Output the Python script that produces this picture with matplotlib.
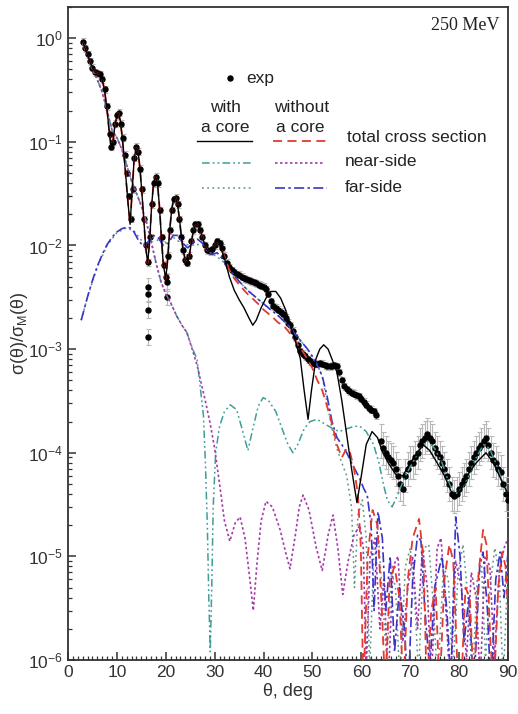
import numpy as np
import matplotlib
matplotlib.use("Agg")
import matplotlib.pyplot as plt
from matplotlib.ticker import MultipleLocator, FixedLocator, LogFormatterSciNotation, NullFormatter

plt.rcParams['font.family'] = ['Liberation Sans', 'DejaVu Sans']
plt.rcParams['mathtext.fontset'] = 'custom'
plt.rcParams['mathtext.rm'] = 'Liberation Sans'

# ---------------- data (theta in deg, sigma/sigma_M) ----------------
exp_main = np.array([
    (3.0, 0.92), (3.5, 0.80), (4.0, 0.70), (4.5, 0.60), (5.0, 0.52), (5.5, 0.47), (6.0, 0.46),
    (6.5, 0.45), (7.0, 0.40), (7.5, 0.32), (8.0, 0.22), (8.5, 0.12), (8.8, 0.09), (9.2, 0.10),
    (9.6, 0.15), (10.0, 0.18), (10.4, 0.19), (10.8, 0.15), (11.2, 0.11), (11.6, 0.075),
    (12.0, 0.05), (12.4, 0.030), (12.8, 0.018), (13.2, 0.035), (13.6, 0.070), (14.0, 0.090),
    (14.4, 0.080), (14.8, 0.055), (15.2, 0.035), (15.6, 0.018), (16.0, 0.010), (16.4, 0.0069),
    (16.8, 0.012), (17.2, 0.025), (17.6, 0.040), (18.0, 0.046), (18.4, 0.040), (18.8, 0.022),
    (19.2, 0.012), (19.6, 0.0065), (20.0, 0.0050), (20.4, 0.008), (20.8, 0.014), (21.2, 0.022),
    (21.6, 0.028), (22.0, 0.029), (22.4, 0.025), (22.8, 0.018), (23.2, 0.012), (23.6, 0.009),
    (24.0, 0.0072), (24.4, 0.0068), (24.8, 0.008), (25.2, 0.011), (25.6, 0.014), (26.0, 0.016),
    (26.5, 0.016), (27.0, 0.014), (27.5, 0.012), (28.0, 0.010), (28.5, 0.009), (29.0, 0.0088),
    (29.5, 0.0092), (30.0, 0.010), (30.5, 0.011), (31.0, 0.0105), (31.5, 0.0095), (32.0, 0.008),
    (32.5, 0.0068), (33.0, 0.0062), (33.5, 0.0058), (34.0, 0.0055), (34.5, 0.0053), (35.0, 0.0052),
    (35.5, 0.0050), (36.0, 0.0048), (36.5, 0.0047), (37.0, 0.0046), (37.5, 0.0045), (38.0, 0.0044),
    (38.5, 0.0043), (39.0, 0.0042), (39.5, 0.0041), (40.0, 0.0040), (40.5, 0.0038), (41.0, 0.0034),
    (41.5, 0.0029), (42.0, 0.0026), (42.5, 0.0025), (43.0, 0.0024), (43.5, 0.0023), (44.0, 0.0022),
    (44.5, 0.0020), (45.0, 0.0018), (45.5, 0.0017), (46.0, 0.0015), (46.5, 0.0013), (47.0, 0.0011),
    (47.5, 0.00095), (48.0, 0.00090), (48.5, 0.00085), (49.0, 0.00080), (49.5, 0.00076),
    (50.0, 0.00074), (50.5, 0.00072), (51.0, 0.00072), (51.5, 0.00073), (52.0, 0.00072),
    (52.5, 0.00070), (53.0, 0.00068), (53.5, 0.00068), (54.0, 0.00069), (54.5, 0.00070),
    (55.0, 0.00068), (55.5, 0.00060), (56.0, 0.00050), (56.5, 0.00044), (57.0, 0.00041),
    (57.5, 0.00039), (58.0, 0.00038), (58.5, 0.00037), (59.0, 0.00036), (59.5, 0.00035),
    (60.0, 0.00033), (60.5, 0.00031), (61.0, 0.00029), (61.5, 0.00027), (62.0, 0.00026),
    (62.5, 0.00025), (63.0, 0.00023),
])
exp_main_err = 0.08

exp_low = np.array([
    (16.3, 0.0040), (16.3, 0.0034), (16.3, 0.0024), (16.3, 0.0013), (20.2, 0.0044), (20.2, 0.0032),
])
exp_low_err = 0.2

exp_far = np.array([
    (64.0, 1.3e-4), (64.5, 1.1e-4), (65.0, 1.0e-4), (65.5, 9.0e-5), (66.0, 8.5e-5), (66.5, 8.0e-5),
    (67.0, 7.0e-5), (67.5, 6.0e-5), (68.0, 5.0e-5), (68.5, 4.5e-5), (69.0, 6.0e-5), (69.5, 7.0e-5),
    (70.0, 8.0e-5), (70.5, 8.0e-5), (71.0, 9.0e-5), (71.5, 1.0e-4), (72.0, 1.2e-4), (72.5, 1.3e-4),
    (73.0, 1.4e-4), (73.5, 1.5e-4), (74.0, 1.4e-4), (74.5, 1.3e-4), (75.0, 1.1e-4), (75.5, 1.0e-4),
    (76.0, 9.0e-5), (76.5, 8.0e-5), (77.0, 7.0e-5), (77.5, 6.0e-5), (78.0, 5.0e-5), (78.5, 4.0e-5),
    (79.0, 3.8e-5), (79.5, 4.0e-5), (80.0, 4.5e-5), (80.5, 5.0e-5), (81.0, 5.5e-5), (81.5, 6.0e-5),
    (82.0, 7.0e-5), (82.5, 8.0e-5), (83.0, 9.0e-5), (83.5, 1.0e-4), (84.0, 1.1e-4), (84.5, 1.2e-4),
    (85.0, 1.3e-4), (85.5, 1.4e-4), (86.0, 1.2e-4), (86.5, 1.0e-4), (87.0, 8.5e-5), (87.5, 8.0e-5),
    (88.0, 7.0e-5), (88.5, 6.5e-5), (89.0, 5.0e-5), (89.5, 4.0e-5), (90.0, 3.5e-5),
])
exp_far_err = 0.45

# common forward-angle part of both total cross sections
total_front = np.array([
    (3.0, 0.92), (3.5, 0.80), (4.0, 0.69), (4.5, 0.59), (5.0, 0.52), (5.5, 0.47), (6.0, 0.46),
    (6.5, 0.45), (7.0, 0.40), (7.5, 0.31), (8.0, 0.20), (8.4, 0.13), (8.8, 0.09), (9.2, 0.10),
    (9.6, 0.145), (10.0, 0.18), (10.3, 0.19), (10.7, 0.16), (11.1, 0.11), (11.5, 0.07),
    (11.9, 0.042), (12.3, 0.025), (12.7, 0.016), (13.1, 0.032), (13.5, 0.065), (13.9, 0.088),
    (14.3, 0.082), (14.7, 0.057), (15.1, 0.033), (15.5, 0.018), (15.9, 0.0095), (16.3, 0.0068),
    (16.7, 0.011), (17.1, 0.024), (17.5, 0.040), (17.9, 0.046), (18.3, 0.040), (18.7, 0.024),
    (19.1, 0.012), (19.5, 0.0065), (20.0, 0.0048), (20.4, 0.0075), (20.8, 0.014), (21.2, 0.022),
    (21.6, 0.028), (22.0, 0.029), (22.4, 0.025), (22.8, 0.018), (23.2, 0.012), (23.6, 0.0088),
    (24.0, 0.0072), (24.4, 0.0068), (24.8, 0.0078), (25.2, 0.0105), (25.6, 0.0135), (26.0, 0.0155),
    (26.5, 0.016), (27.0, 0.0145), (27.5, 0.012), (28.0, 0.0100), (28.5, 0.0090), (29.0, 0.0087),
    (29.5, 0.0092), (30.0, 0.0100),
])

total_core_tail = np.array([
    (30.5, 0.0105), (31.1, 0.0100), (32.0, 0.0075), (33.0, 0.0050), (34.0, 0.0037), (35.0, 0.0030),
    (36.0, 0.0025), (37.0, 0.0020), (37.8, 0.0017), (38.5, 0.0019), (39.5, 0.0025), (40.5, 0.0031),
    (41.5, 0.0036), (42.5, 0.0036), (43.5, 0.0031), (44.5, 0.0024), (45.5, 0.0017), (46.5, 0.0012),
    (47.5, 0.00082), (48.3, 0.0004), (49.1, 0.00021), (49.8, 0.0004), (50.7, 0.0008), (51.5, 0.0010),
    (52.3, 0.0011), (53.2, 0.0010), (54.0, 0.0008), (55.0, 0.0006), (56.0, 0.00032), (57.0, 0.00015),
    (58.0, 7.0e-5), (59.1, 3.3e-5), (60.0, 6.0e-5), (61.0, 1.2e-4), (62.2, 1.6e-4), (63.3, 1.4e-4),
    (64.4, 1.0e-4), (65.5, 8.0e-5), (67.0, 6.2e-5), (68.5, 6.0e-5), (70.0, 8.0e-5), (71.5, 1.0e-4),
    (72.6, 1.2e-4), (74.0, 1.05e-4), (75.5, 8.0e-5), (77.0, 6.0e-5), (78.8, 3.8e-5), (80.0, 4.0e-5),
    (81.6, 6.0e-5), (83.5, 8.0e-5), (85.5, 1.0e-4), (87.0, 8.0e-5), (89.0, 5.0e-5), (90.0, 4.0e-5),
])

total_nocore_tail = np.array([
    (30.5, 0.0105), (31.1, 0.0098), (32.0, 0.0078), (33.0, 0.0058), (34.0, 0.0048), (35.0, 0.0042),
    (36.0, 0.0037), (37.0, 0.0033), (38.0, 0.0030), (39.0, 0.0027), (40.0, 0.0024), (41.0, 0.0022),
    (42.0, 0.0020), (43.0, 0.0018), (44.0, 0.0017), (45.0, 0.0015), (46.0, 0.0013), (47.0, 0.0011),
    (48.0, 0.00095), (49.0, 0.0008), (50.0, 0.00065), (51.0, 0.0005), (52.0, 0.0004), (53.0, 0.00028),
    (54.0, 0.00019), (55.0, 0.00012), (56.0, 9.0e-5), (57.0, 1.1e-4), (57.7, 1.0e-4), (58.5, 7.0e-5),
    (59.3, 4.0e-5), (59.9, 1.2e-5), (60.4, 5e-7), (61.3, 1.0e-5), (62.3, 2.8e-5), (63.3, 2.0e-5),
    (64.2, 3e-6), (64.9, 5e-7), (65.8, 6e-6), (66.8, 8e-6), (67.8, 4e-6), (68.6, 5e-7), (69.5, 6e-6),
    (70.5, 1.5e-5), (71.8, 2.3e-5), (72.7, 1.0e-5), (73.4, 5e-7), (74.3, 3e-6), (75.2, 5e-6),
    (76.0, 5e-7), (77.0, 6e-6), (78.0, 1.3e-5), (78.8, 9e-6), (79.6, 1e-6), (80.4, 5e-7), (81.3, 5e-6),
    (82.2, 4e-6), (83.0, 5e-7), (84.0, 7e-6), (84.9, 1.8e-5), (85.6, 1.3e-5), (86.4, 1.5e-6),
    (87.1, 5e-7), (88.0, 5e-6), (88.8, 1.1e-5), (89.5, 8e-6), (90.0, 3e-6),
])

far_nocore = np.array([
    (2.7, 0.0019), (4.0, 0.0032), (5.0, 0.0046), (6.0, 0.0063), (7.0, 0.0082), (8.0, 0.0102),
    (9.0, 0.0120), (10.0, 0.0135), (11.0, 0.0145), (12.0, 0.0150), (12.7, 0.0148), (13.5, 0.0135),
    (14.5, 0.0110), (15.5, 0.0098), (16.5, 0.0110), (17.5, 0.0125), (18.5, 0.0118), (19.5, 0.0100),
    (20.5, 0.0105), (21.5, 0.0125), (22.5, 0.0125), (23.5, 0.0105), (24.5, 0.0095), (25.5, 0.0105),
    (26.5, 0.0115), (27.5, 0.0105), (28.5, 0.0088), (29.5, 0.0082), (30.5, 0.0085), (31.5, 0.0075),
    (33.0, 0.0058), (35.0, 0.0045), (37.0, 0.0036), (39.0, 0.0030), (41.0, 0.0025), (43.0, 0.0021),
    (45.0, 0.0017), (47.0, 0.0013), (49.0, 0.0010), (50.0, 0.00085), (51.0, 0.0007), (52.0, 0.00055),
    (53.0, 0.00035), (54.0, 0.0002), (55.0, 0.00014), (56.0, 0.00012), (57.0, 1.0e-4), (58.0, 8.0e-5),
    (59.0, 6.5e-5), (59.7, 5.6e-5), (60.5, 4.5e-5), (61.2, 3.9e-5), (62.0, 2.0e-5), (62.6, 3e-6),
    (63.4, 2.7e-5), (64.3, 1.5e-5), (65.0, 3e-6), (65.9, 1.0e-5), (66.8, 1.2e-6), (67.8, 5e-6),
    (68.8, 2e-6), (69.6, 5e-7), (70.5, 6e-6), (71.5, 1.6e-5), (72.2, 1.4e-5), (73.0, 3e-6),
    (74.0, 8e-7), (75.0, 5e-6), (76.5, 1.0e-5), (77.5, 3e-6), (78.3, 6e-7), (79.3, 2.4e-5),
    (80.2, 1.0e-5), (81.0, 1.5e-6), (82.0, 4e-6), (83.0, 5e-7), (84.2, 8e-6), (84.9, 1.1e-5),
    (85.8, 3e-6), (86.5, 5e-7), (87.5, 6e-6), (88.4, 1.1e-5), (89.2, 4e-6), (90.0, 1.1e-5),
])

near_front = np.array([
    (3.0, 0.90), (4.0, 0.68), (5.0, 0.50), (6.0, 0.40), (7.0, 0.30), (8.0, 0.20), (9.0, 0.13),
    (10.0, 0.11), (11.0, 0.085), (12.0, 0.060), (13.0, 0.042), (14.0, 0.032), (15.0, 0.024),
    (16.0, 0.017), (17.0, 0.011), (18.0, 0.0068), (19.0, 0.0045), (20.0, 0.0034), (21.0, 0.0028),
    (22.2, 0.0021), (23.3, 0.0017), (24.3, 0.00145),
])

near_nocore_tail = np.array([
    (25.4, 0.0010), (26.4, 0.0007), (27.2, 0.00048), (28.0, 0.00033), (29.0, 0.0002), (30.0, 0.00011),
    (31.0, 5.0e-5), (32.0, 2.2e-5), (33.1, 1.4e-5), (34.2, 2.1e-5), (35.2, 2.4e-5), (36.2, 1.5e-5),
    (37.2, 6e-6), (37.9, 3e-6), (38.6, 8e-6), (39.5, 2.2e-5), (40.5, 3.4e-5), (41.8, 3.0e-5),
    (43.4, 1.8e-5), (44.5, 1.1e-5), (45.4, 7.6e-6), (46.5, 1.6e-5), (47.3, 3.0e-5), (48.1, 3.9e-5),
    (49.3, 2.8e-5), (50.8, 1.2e-5), (52.0, 7.3e-6), (53.2, 1.6e-5), (54.2, 2.5e-5), (55.2, 1.2e-5),
    (56.2, 4.3e-6), (57.3, 9e-6), (58.5, 1.6e-5), (59.7, 2.0e-5), (60.4, 1.2e-5), (61.0, 8e-7),
    (61.8, 1.0e-5), (62.8, 1.5e-5), (63.8, 2e-6), (64.6, 6e-6), (65.5, 6e-7), (66.5, 8e-6),
    (67.5, 1.0e-5), (68.5, 1.5e-6), (69.5, 5e-6), (70.5, 1.0e-5), (71.5, 2e-6), (72.5, 1.2e-5),
    (73.5, 5e-6), (74.3, 6e-7), (75.5, 1.2e-5), (76.3, 1.5e-5), (77.3, 3e-6), (78.2, 5e-7),
    (79.3, 9e-6), (80.5, 5e-6), (81.5, 1e-6), (82.5, 7e-6), (83.5, 4e-6), (84.3, 6e-7), (85.3, 1.0e-5),
    (86.3, 8e-6), (87.2, 1e-6), (88.2, 7e-6), (89.2, 1.2e-5), (90.0, 1.5e-5),
])

near_core_tail = np.array([
    (25.5, 0.0010), (26.4, 0.0008), (27.0, 0.00045), (27.7, 0.00023), (28.1, 8.0e-5), (28.5, 2.0e-5),
    (28.8, 4e-6), (29.1, 1.2e-6), (29.4, 5e-6), (29.7, 3.0e-5), (30.2, 1.0e-4), (31.0, 1.8e-4),
    (32.0, 2.5e-4), (33.2, 2.9e-4), (34.5, 2.6e-4), (35.6, 1.7e-4), (36.8, 1.05e-4), (37.8, 1.7e-4),
    (38.9, 2.8e-4), (39.9, 3.4e-4), (41.0, 3.2e-4), (42.5, 2.5e-4), (44.0, 1.6e-4), (45.0, 1.2e-4),
    (46.0, 1.0e-4), (47.0, 1.2e-4), (48.3, 1.7e-4), (49.5, 2.0e-4), (50.9, 2.1e-4), (52.5, 1.9e-4),
    (54.2, 1.7e-4), (55.5, 1.6e-4), (57.0, 1.7e-4), (58.5, 1.8e-4), (59.7, 1.8e-4), (61.0, 1.6e-4),
    (62.5, 1.2e-4), (63.6, 8.0e-5), (64.5, 5.0e-5), (65.3, 3.5e-5), (66.3, 3.0e-5), (67.5, 4.0e-5),
    (69.0, 6.0e-5), (70.5, 8.0e-5), (72.0, 1.1e-4), (73.5, 1.3e-4), (75.0, 1.1e-4), (76.5, 8.0e-5),
    (78.0, 5.0e-5), (79.3, 4.0e-5), (80.5, 4.5e-5), (82.0, 6.0e-5), (83.5, 9.0e-5), (85.0, 1.2e-4),
    (86.2, 1.1e-4), (87.5, 8.0e-5), (89.0, 5.0e-5), (90.0, 4.0e-5),
])

far_core = np.array([
    (2.7, 0.0019), (4.0, 0.0032), (6.0, 0.0062), (8.0, 0.0100), (10.0, 0.0133), (12.0, 0.0148),
    (13.5, 0.0138), (15.5, 0.0105), (17.5, 0.0120), (19.5, 0.0102), (21.5, 0.0120), (23.5, 0.0102),
    (25.5, 0.0102), (27.5, 0.0102), (29.5, 0.0083), (31.5, 0.0072), (33.0, 0.0058), (35.0, 0.0045),
    (37.0, 0.0036), (39.0, 0.0030), (41.0, 0.0025), (43.0, 0.0021), (45.0, 0.0017), (47.0, 0.0013),
    (49.0, 0.0010), (51.0, 0.0007), (52.0, 0.00055), (53.0, 0.0003), (54.0, 0.00017), (55.0, 0.00011),
    (56.0, 8.0e-5), (57.0, 6.0e-5), (58.0, 3.0e-5), (58.6, 5e-6), (59.3, 2.5e-5), (60.2, 3.5e-5),
    (61.0, 1.5e-5), (61.7, 8e-7), (62.6, 1.2e-5), (63.5, 1.6e-5), (64.3, 4e-6), (65.2, 1e-6),
    (66.2, 7e-6), (67.0, 5e-6), (67.9, 6e-7), (69.0, 8e-6), (70.0, 1.2e-5), (70.9, 4e-6),
    (71.7, 7e-7), (72.8, 1.2e-5), (73.8, 1.3e-5), (74.8, 3e-6), (75.6, 6e-7), (76.8, 8e-6),
    (77.8, 6e-6), (78.7, 7e-7), (79.8, 7e-6), (80.8, 1.3e-5), (81.8, 4e-6), (82.7, 6e-7),
    (83.7, 6e-6), (84.6, 8e-6), (85.4, 1e-6), (86.3, 5e-6), (87.3, 1.2e-5), (88.2, 7e-6),
    (89.0, 6e-7), (90.0, 8e-6),
])

x_ticks = [0, 10, 20, 30, 40, 50, 60, 70, 80, 90]
y_ticks = [1e-6, 1e-5, 1e-4, 1e-3, 1e-2, 1e-1, 1e0]

# ---------------- figure ----------------
W, H = 518, 714
fig = plt.figure(figsize=(W / 100, H / 100), dpi=100)
L, R, T, B = 68, 508, 7, 660
ax = fig.add_axes([L / W, 1 - B / H, (R - L) / W, (B - T) / H])
ax.set_yscale('log')
ax.set_xlim(0, 90)
ax.set_ylim(1e-6, 2.0)

RED = '#e23a2e'
BLUE = '#3a34c8'
PURPLE = '#a43aa8'
TEAL = '#3f9e98'
TEAL2 = '#5c9488'

def cat(a, b):
    return np.vstack([a, b])

# experiment
for arr, err in ((exp_main, exp_main_err), (exp_low, exp_low_err), (exp_far, exp_far_err)):
    ax.errorbar(arr[:, 0], arr[:, 1], yerr=[arr[:, 1] * err / (1 + err), arr[:, 1] * err],
                fmt='o', color='black', ms=3.6, ecolor='#b8b8b8', elinewidth=0.8,
                capsize=1.8, capthick=0.8, zorder=3)

tc = cat(total_front, total_core_tail)
tn = cat(total_front, total_nocore_tail)
nn = cat(near_front, near_nocore_tail)
nc = cat(near_front, near_core_tail)

ax.plot(far_core[:, 0], far_core[:, 1], color=TEAL2, lw=1.1, ls=(0, (1.2, 2.2)), zorder=4)
ax.plot(nc[:, 0], nc[:, 1], color=TEAL, lw=1.1, ls=(0, (5, 2, 1.2, 2, 1.2, 2)), zorder=4)
ax.plot(nn[:, 0], nn[:, 1], color=PURPLE, lw=1.2, ls=(0, (1.5, 1.5)), zorder=4)
ax.plot(far_nocore[:, 0], far_nocore[:, 1], color=BLUE, lw=1.2, ls=(0, (6, 2, 1.5, 2)), zorder=5)
ax.plot(tn[:, 0], tn[:, 1], color=RED, lw=1.3, ls=(0, (5, 3)), zorder=5)
ax.plot(tc[:, 0], tc[:, 1], color='black', lw=1.0, zorder=6)

# axes styling
ax.set_xticks(x_ticks)
ax.xaxis.set_minor_locator(MultipleLocator(1))
ax.yaxis.set_major_locator(FixedLocator(y_ticks))
ax.yaxis.set_major_formatter(LogFormatterSciNotation())
minor_y = [m * 10.0 ** e for e in range(-6, 1) for m in range(2, 10) if m * 10.0 ** e <= 2.0]
ax.yaxis.set_minor_locator(FixedLocator(minor_y))
ax.yaxis.set_minor_formatter(NullFormatter())
ax.tick_params(which='both', direction='in', top=False, right=False, labelsize=12.5, colors='#333333')
ax.tick_params(which='major', length=6, width=1.1)
ax.tick_params(which='minor', length=3, width=0.9)
for s in ax.spines.values():
    s.set_linewidth(1.3)
    s.set_color('#333333')

ax.set_xlabel('θ, deg', fontsize=13, color='#333333', labelpad=2)
ax.set_ylabel('σ(θ)/σ$_\\mathregular{M}$(θ)', fontsize=13, color='#333333')
ax.yaxis.set_label_coords((30 - L) / (R - L), 0.5)

# ---------------- custom legend (positions in pixels) ----------------
def ap(px, py):
    return ((px - L) / (R - L), (B - py) / (B - T))

def sample(x0, x1, y, **kw):
    (a0, b0), (a1, _) = ap(x0, y), ap(x1, y)
    ax.plot([a0, a1], [b0, b0], transform=ax.transAxes, clip_on=False, **kw)

def label(px, py, s, ha='left', **kw):
    a, b = ap(px, py)
    ax.text(a, b, s, transform=ax.transAxes, ha=ha, va='center', fontsize=12.5, color='#222222', **kw)

a, b = ap(230, 78)
ax.plot([a], [b], 'o', color='black', ms=3.6, transform=ax.transAxes)
label(246, 78, 'exp')
label(225, 108, 'with', ha='center')
label(225, 127, 'a core', ha='center')
label(302, 108, 'without', ha='center')
label(300, 127, 'a core', ha='center')
sample(197, 252, 141, color='black', lw=1.0)
sample(273, 327, 141, color=RED, lw=1.3, ls=(0, (5, 3)))
label(347, 137, 'total cross section')
sample(202, 253, 163, color=TEAL, lw=1.1, ls=(0, (5, 2, 1.2, 2, 1.2, 2)))
sample(275, 324, 163, color=PURPLE, lw=1.2, ls=(0, (1.5, 1.5)))
label(345, 162, 'near-side')
sample(202, 253, 188, color=TEAL2, lw=1.1, ls=(0, (1.2, 2.2)))
sample(275, 327, 188, color=BLUE, lw=1.2, ls=(0, (6, 2, 1.5, 2)))
label(345, 187, 'far-side')

a, b = ap(500, 25)
ax.text(a, b, '250 MeV', transform=ax.transAxes, ha='right', va='center', fontsize=13,
        family=['Liberation Serif', 'DejaVu Serif'], color='#222222')

fig.savefig('out.png', dpi=100)
